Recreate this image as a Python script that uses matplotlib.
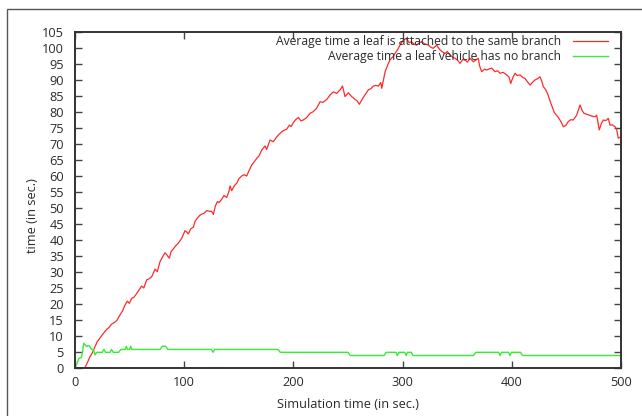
import matplotlib
matplotlib.use("Agg")
import matplotlib.pyplot as plt
from matplotlib.patches import Rectangle

# ---------------- data ----------------
red_t = [0, 5, 9, 11.5, 13.7, 16, 18.3, 20.5, 22.9, 26, 29, 31, 33.6, 36, 38.2, 41.2, 43.5, 45.8,
         47.9, 49.8, 51.9, 54, 56.5, 59, 61, 63, 65.6, 68, 70.2, 73.3, 75.4, 77.8, 80, 82.4, 84,
         86.4, 88, 90, 92, 94.6, 97.7, 100.7, 102, 103.8, 106, 108.4, 110, 112, 114, 116, 118,
         120.6, 123, 125.2, 126.7, 128.5, 130.4, 132, 134.3, 136.4, 138.9, 141, 142, 143.5,
         146, 148, 150, 152.6, 155, 157.2, 159, 161.8, 164, 166.4, 168.5, 171, 174, 175.5,
         178.6, 181.6, 184, 186.2, 188, 190.8, 193.8, 196.3, 198, 200, 202, 204.5, 207, 209,
         212, 215.2, 218.2, 221.3, 224.4, 227, 229, 231, 233.5, 236.6, 239.6, 242.7, 245,
         247.3, 250.3, 253.4, 256.4, 258.5, 260.4, 263.5, 266.5, 268.6, 271, 273.2, 275.5,
         277.8, 280, 280.9, 284, 286.5, 288.5, 291, 293, 295.5, 297.6, 300.6, 303.7, 306,
         308, 310.5, 312.9, 315, 317.5, 320, 323.6, 326, 328.1, 331.2, 334.2, 336.5, 338.8,
         341, 343.4, 346, 348, 350.5, 352.6, 355, 357, 359.5, 361.7, 364.8, 367, 369.3, 370.5,
         372.4, 375, 377, 379.5, 381.6, 384.6, 387, 389.2, 392, 395.3, 397.5, 399, 401, 403,
         405, 407.5, 410, 412, 414.5, 416.7, 419, 421.2, 423.5, 425.8, 427.5, 428.9, 431,
         433, 436, 439, 442.6, 445, 447.2, 449.5, 451.7, 454, 456.3, 459.4, 461, 462.5,
         464.5, 466.1, 468.5, 471, 473.5, 476.2, 477.7, 480.1, 482, 483.8, 486, 488.4, 489.9,
         492, 494.5, 496, 497.5, 500]
red_v = [0, 0, 0, 1.8, 3.5, 4.8, 6.7, 8.3, 9.4, 10.8, 12.1, 12.6, 13.75, 14.2, 14.8, 16.6, 17.8, 19.7,
         20.9, 20.2, 21.8, 22.1, 23.3, 24.6, 25.6, 25.0, 27.5, 27.9, 28.5, 30.9, 30.1, 33.2, 34.6, 36.0, 35.4,
         34.3, 36.4, 37.2, 38.1, 39.0, 40.5, 42.9, 42.6, 41.9, 43.5, 44.0, 45.9, 46.8, 47.6, 48.1, 48.3,
         49.2, 49.0, 48.9, 48.0, 50.6, 52.0, 51.7, 52.7, 53.9, 53.3, 55.2, 56.9, 55.4,
         57.0, 57.7, 59.1, 60.0, 60.4, 60.0, 61.4, 63.4, 64.4, 65.5, 66.3, 68.1, 69.4, 68.3,
         71.25, 70.7, 71.9, 72.8, 73.4, 74.2, 74.6, 75.9, 75.5, 76.7, 77.6, 78.3, 77.2, 77.5,
         78.2, 79.6, 80.1, 81.2, 83.2, 83.0, 83.5, 84.1, 85.3, 86.3, 85.8, 86.9, 88.1,
         84.8, 86.0, 84.8, 84.0, 83.4, 82.4, 84.3, 85.8, 86.9, 87.3, 88.1, 88.3,
         88.1, 89.2, 87.4, 92.6, 94.8, 96.3, 97.2, 98.3, 99.5, 100.9, 102.5, 103.0, 101.6,
         102.0, 101.2, 100.9, 101.5, 102.0, 101.3, 100.9, 100.2, 99.9, 100.9, 99.4, 98.8, 98.3,
         98.9, 97.8, 97.1, 96.8, 96.1, 95.2, 96.4, 96.25, 95.6, 96.8, 95.7, 96.2, 96.8, 94.4,
         92.6, 93.4, 93.1, 93.5, 93.7, 92.6, 92.9, 92.1, 92.4, 91.6, 90.9, 88.9, 90.8, 92.1,
         91.4, 91.6, 90.8, 90.5, 89.4, 88.4, 89.3, 90.0, 90.4, 91.0, 89.6, 87.9, 87.0,
         85.5, 82.5, 79.8, 78.3, 77.0, 75.4, 75.8, 77.0, 77.6, 77.5, 79.0, 80.6, 82.2,
         80.4, 79.6, 79.3, 79.0, 78.7, 78.5, 79.0, 74.4, 76.4, 77.5, 77.3, 78.0, 75.9,
         76.0, 75.4, 74.6, 71.8, 72.3]

green_t = [0, 2, 3.5, 6, 8, 10.7, 12, 13.1, 15.2, 17, 18.3, 19.8, 25, 26.5, 28, 32, 33.5, 35, 40, 42,
           46, 47, 48, 50, 51, 52, 78, 80, 83, 85, 125, 126.5, 128, 186, 188, 250, 252, 283, 285,
           294, 295.2, 296.5, 302, 303.3, 304.5, 308, 309.5, 365, 367, 388, 389.3, 390.6, 397,
           398.3, 399.6, 408, 409, 410.5, 500]
green_v = [0, 1.5, 3.0, 3.3, 7.7, 6.7, 7.0, 6.9, 5.8, 5.6, 4.1, 4.9, 4.9, 5.8, 4.9, 4.9, 5.8, 4.9, 4.9, 5.8,
           5.8, 6.8, 5.8, 5.8, 6.8, 5.8, 5.8, 6.8, 6.8, 5.8, 5.8, 4.9, 5.8, 5.8, 4.9, 4.9, 3.9, 3.9, 4.9,
           4.9, 3.9, 4.9, 4.9, 3.9, 4.9, 4.9, 3.9, 3.9, 4.9, 4.9, 3.9, 4.9, 4.9,
           3.9, 4.9, 4.9, 4.2, 3.9, 3.9]

red_label = "Average time a leaf is attached to the same branch"
green_label = "Average time a leaf vehicle has no branch"
x_ticks = [0, 100, 200, 300, 400, 500]
y_ticks = list(range(0, 106, 5))
x_title = "Simulation time (in sec.)"
y_title = "time (in sec.)"

# ---------------- figure ----------------
plt.rcParams['font.family'] = ['Open Sans', 'DejaVu Sans']
plt.rcParams['font.size'] = 9.2
txt = '#2a2a2a'

fig = plt.figure(figsize=(6.42, 4.16), dpi=100)
ax = fig.add_axes([75/642, 48/416, 546/642, 336/416])

ax.plot(red_t, red_v, color='#ff2a2a', lw=0.9, label=red_label)
ax.plot(green_t, green_v, color='#33ee33', lw=1.0, label=green_label)

ax.set_xlim(0, 500)
ax.set_ylim(0, 105)
ax.set_xticks(x_ticks)
ax.set_yticks(y_ticks)
ax.tick_params(direction='in', length=5, width=1.0, top=True, right=True,
               color='#444444', labelcolor=txt)
ax.tick_params(axis='y', pad=8)
ax.tick_params(axis='x', pad=6)
for s in ax.spines.values():
    s.set_linewidth(1.4)
    s.set_color('#333333')

ax.set_xlabel(x_title, color=txt)
ax.set_ylabel(y_title, color=txt)
ax.xaxis.set_label_coords(0.5, -(405 - 368) / 336)
ax.xaxis.label.set_va('center')
ax.yaxis.set_label_coords((33 - 75) / 546, (368 - 216) / 336)
ax.yaxis.label.set_va('center')
ax.yaxis.label.set_ha('center')

leg = ax.legend(loc='upper right', bbox_to_anchor=((608 - 75) / 546, (368 - 35) / 336),
                markerfirst=False, frameon=False, borderpad=0, borderaxespad=0,
                prop={'size': 8.75},
                handlelength=2.85, handletextpad=1.0, labelspacing=0.15)
for t in leg.get_texts():
    t.set_color(txt)

fig.patches.append(Rectangle((7/642, -0.1), 2.0, (416 - 8.5)/416 + 0.1,
                             transform=fig.transFigure, fill=False,
                             edgecolor='#555555', lw=1.0))

fig.savefig('out.png', dpi=100)
